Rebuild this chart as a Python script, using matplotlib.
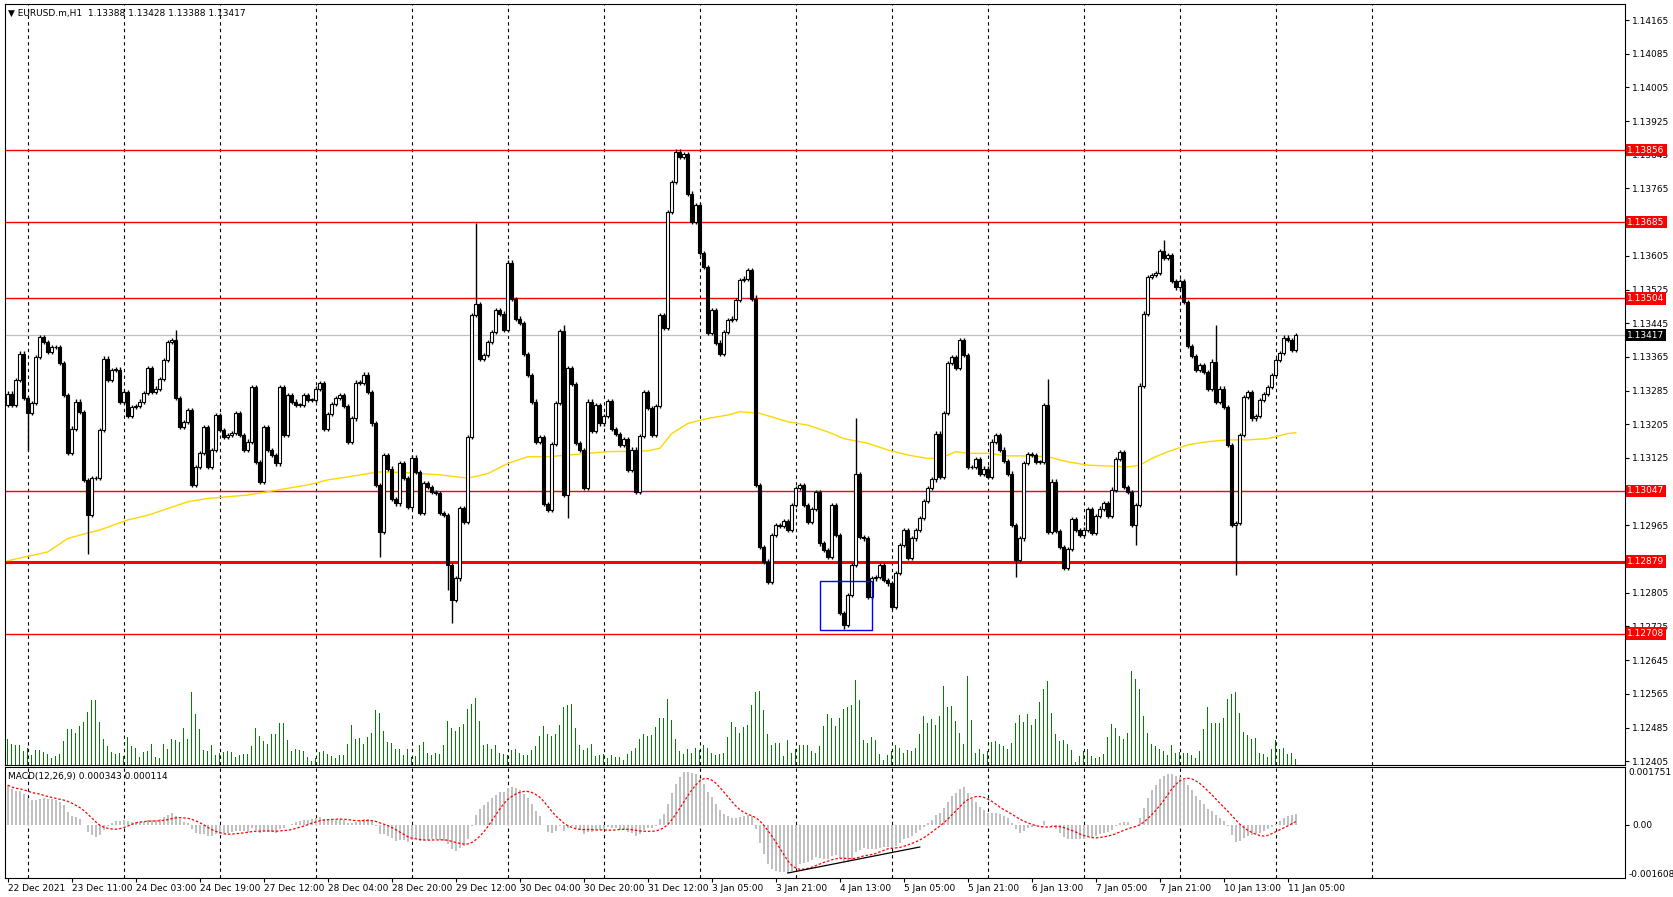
import numpy as np
import matplotlib
matplotlib.use("Agg")
import matplotlib.pyplot as plt
from matplotlib.patches import Rectangle

# ---------------- data ----------------
closes_pts = [1278,1251,1310,1373,1267,1231,1255,1365,1413,1401,1377,1388,1388,1350,1274,1137,1195,1259,1235,1073,
 989,1077,1077,1191,1361,1310,1334,1335,1259,1282,1225,1247,1249,1259,1280,1338,1282,1290,1312,1358,
 1401,1405,1267,1198,1211,1239,1061,1104,1136,1199,1104,1144,1227,1191,1175,1179,1185,1232,1179,1144,
 1164,1294,1116,1069,1199,1144,1132,1112,1294,1179,1274,1259,1251,1251,1274,1263,1263,1290,1302,1193,
 1229,1253,1267,1274,1248,1164,1219,1304,1304,1323,1282,1207,1061,950,1132,1100,1027,1017,1114,1077,
 1009,1126,1092,995,1065,1057,1045,1042,995,989,871,788,839,1007,974,1175,1464,1491,1361,1369,
 1401,1425,1476,1468,1430,1589,1502,1456,1445,1371,1322,1259,1164,1174,1015,1001,1158,1255,1427,1037,
 1338,1301,1161,1144,1053,1259,1190,1251,1207,1225,1261,1193,1182,1156,1170,1096,1145,1045,1177,1281,
 1243,1179,1249,1464,1433,1710,1781,1852,1840,1847,1753,1686,1726,1612,1578,1421,1476,1399,1373,1425,
 1453,1456,1500,1548,1551,1571,1502,1061,913,879,831,942,966,963,975,954,1013,1053,1061,1013,
 974,1003,1045,922,906,891,1013,942,756,728,799,871,1086,938,934,795,839,843,871,835,
 827,772,851,918,954,887,934,954,982,1023,1053,1074,1183,1080,1232,1350,1365,1338,1405,1369,
 1104,1103,1122,1087,1100,1080,1164,1179,1145,1118,1088,966,883,934,1114,1134,1132,1116,1116,1251,
 950,1069,952,913,863,908,979,954,942,955,1003,946,987,1005,1017,987,1050,1122,1140,1057,
 1045,966,1013,1297,1468,1554,1559,1565,1617,1601,1607,1546,1530,1546,1496,1391,1367,1334,1346,1330,
 1288,1354,1259,1290,1247,1156,966,970,1179,1269,1281,1219,1225,1263,1277,1294,1322,1358,1375,1411,
 1405,1381,1417]
first_open_pts = 1251
spike_highs = {42:1429, 117:1684, 139:1441, 167:1858, 168:1858, 187:1512, 212:1219, 260:1312, 289:1643, 302:1441}
spike_lows = {5:1144, 20:898, 93:890, 110:811, 111:732, 140:982, 209:720, 221:768, 252:843, 282:918, 307:847}

ma_idx = [0,10,15,20,23,30,35,40,45,50,60,65,70,75,80,85,90,93,100,108,115,120,125,130,135,140,150,160,163,166,
          170,175,180,183,188,195,200,205,209,215,220,225,230,233,237,240,245,250,255,260,265,270,275,280,283,
          286,290,295,300,305,310,315,320,322]
ma_pts = [881,902,934,947,954,978,989,1005,1021,1029,1037,1045,1053,1061,1073,1080,1088,1092,1090,1085,1077,1088,1112,
          1128,1128,1132,1140,1142,1148,1183,1207,1219,1227,1235,1231,1211,1203,1187,1171,1160,1144,1132,1124,1124,
          1140,1136,1136,1130,1130,1128,1116,1108,1106,1104,1108,1124,1140,1156,1164,1168,1168,1171,1183,1185]

volumes = [73,60,55,55,40,49,28,43,43,37,31,19,25,31,67,100,100,91,109,121,148,181,181,121,73,52,37,31,34,25,
 79,52,49,22,37,40,58,22,19,58,46,73,70,64,103,73,205,142,100,43,40,55,28,34,37,40,37,22,28,31,
 31,52,103,82,67,58,88,88,118,118,70,40,46,43,40,22,10,19,37,40,31,25,19,28,28,58,112,73,76,58,
 79,91,154,145,94,64,61,46,46,28,46,22,25,55,64,34,28,34,31,55,124,103,94,106,115,157,172,187,124,55,
 58,46,55,34,30,28,43,46,34,28,28,43,52,82,109,88,82,88,112,
 163,169,172,103,55,43,49,58,25,28,31,19,28,22,22,13,31,40,49,73,88,82,85,106,133,133,184,127,73,40,
 31,46,34,49,43,55,49,34,28,31,34,79,121,106,91,106,112,169,205,208,154,88,55,61,62,25,70,34,46,55,
 55,55,40,34,52,109,142,133,109,133,157,163,169,238,181,70,61,79,70,31,13,28,40,55,49,34,43,40,49,88,
 136,118,130,112,136,220,163,166,124,91,58,250,127,34,46,31,40,64,67,58,52,46,
 63,118,141,121,144,113,130,177,214,236,146,88,68,71,60,43,9,26,40,46,26,21,23,32,79,116,104,82,74,91,
 264,242,214,138,91,60,54,46,40,29,57,35,37,35,35,29,21,40,102,163,118,118,118,132,186,200,205,146,93,85,
 74,77,35,30,23,46,71,46,49,32,35,18]

levels = [1.13856, 1.13685, 1.13504, 1.13047, 1.12879, 1.12708]
level_widths = [1.0, 1.0, 1.0, 1.0, 2.2, 1.0]
last_price = 1.13417
price_ticks = [1.14165,1.14085,1.14005,1.13925,1.13845,1.13765,1.13605,1.13525,1.13445,1.13365,1.13285,
               1.13205,1.13125,1.12965,1.12805,1.12725,1.12645,1.12565,1.12485,1.12405]
date_labels = ["22 Dec 2021","23 Dec 11:00","24 Dec 03:00","24 Dec 19:00","27 Dec 12:00","28 Dec 04:00",
               "28 Dec 20:00","29 Dec 12:00","30 Dec 04:00","30 Dec 20:00","31 Dec 12:00","3 Jan 05:00",
               "3 Jan 21:00","4 Jan 13:00","5 Jan 05:00","5 Jan 21:00","6 Jan 13:00","7 Jan 05:00",
               "7 Jan 21:00","10 Jan 13:00","11 Jan 05:00"]
macd_top, macd_bot = 0.001751, -0.001608
macd_start = 0.0012   # MACD value read at the left edge of the reference
box_bars = (203, 216); box_prices = (1.12716, 1.12833)
trend_bars = (195, 228); trend_vals = (-0.001457, -0.00067)

# ---------------- derived ----------------
closes = 1.12 + np.array(closes_pts) / 1e5
n = len(closes)
opens = np.concatenate([[1.12 + first_open_pts / 1e5], closes[:-1]])
wick = 0.00005
highs = np.maximum(opens, closes) + wick
lows = np.minimum(opens, closes) - wick
for k, v in spike_highs.items():
    highs[k] = max(highs[k], 1.12 + v / 1e5)
for k, v in spike_lows.items():
    lows[k] = min(lows[k], 1.12 + v / 1e5)
x = np.arange(n)

def ema(a, p, seed):
    out = np.empty_like(a); al = 2 / (p + 1); out[0] = seed
    for i in range(1, len(a)):
        out[i] = al * a[i] + (1 - al) * out[i - 1]
    return out
macd = ema(closes, 12, closes[0]) - ema(closes, 26, closes[0] - macd_start)
signal = np.empty(n)
for i in range(n):
    signal[i] = macd[max(0, i - 8):i + 1].mean()

# ---------------- figure ----------------
W, H = 1673, 897
fig = plt.figure(figsize=(W / 100, H / 100), dpi=100, facecolor="white")
plt.rcParams['font.family'] = ['DejaVu Sans']
fs = 6.5
ax = fig.add_axes([5 / W, (H - 765) / H, 1620 / W, 761 / H])
axv = fig.add_axes([5 / W, (H - 765) / H, 1620 / W, 761 / H], sharex=ax)
axm = fig.add_axes([5 / W, (H - 878) / H, 1620 / W, 111 / H], sharex=ax)
xlim = (-0.7, 404.3)
ymin, ymax = 1.12396, 1.14203

axv.set_zorder(0); ax.set_zorder(1); ax.patch.set_alpha(0)
axv.bar(np.arange(len(volumes)), volumes, width=0.28, color="#008000")
axv.set_ylim(0, 761 * 2.8)
axv.axis("off")

grid_x = np.arange(5, 342, 24)
for a in (ax, axm):
    for g in grid_x:
        a.axvline(g, color="black", lw=0.8, ls=(0, (3, 3)), zorder=0.5)

for lv, lw in zip(levels, level_widths):
    ax.axhline(lv, color="#FF0000", lw=lw, zorder=1)
ax.axhline(last_price, color="#C0C0C0", lw=0.9, zorder=1)

ax.plot(ma_idx, 1.12 + np.array(ma_pts) / 1e5, color="#FFD700", lw=1.0, zorder=2)

ax.vlines(x, lows, highs, color="black", lw=1.0, zorder=3)
bodies_bottom = np.minimum(opens, closes)
bodies_h = np.maximum(np.abs(closes - opens), 0.000012)
cols = np.where(closes >= opens, "white", "black")
ax.bar(x, bodies_h, bottom=bodies_bottom, width=0.68, color=cols, edgecolor="black", lw=0.8, zorder=4)

ax.add_patch(Rectangle((box_bars[0], box_prices[0]), box_bars[1] - box_bars[0], box_prices[1] - box_prices[0],
                       fill=False, edgecolor="#0000FF", lw=1.0, zorder=5))

ax.set_xlim(*xlim); ax.set_ylim(ymin, ymax)
ax.yaxis.tick_right()
ax.set_yticks(price_ticks)
ax.set_yticklabels([f"{t:.5f}" for t in price_ticks], fontsize=fs)
ax.tick_params(axis="y", length=3, width=0.8, pad=2)
ax.tick_params(axis="x", bottom=False, labelbottom=False)

for lv in levels:
    ax.text(1.0015, lv, f"{lv:.5f}", transform=ax.get_yaxis_transform(), fontsize=fs, color="white",
            va="center", ha="left", bbox=dict(boxstyle="square,pad=0.2", fc="#FF0000", ec="none"), zorder=10, clip_on=False)
ax.text(1.0015, last_price, f"{last_price:.5f}", transform=ax.get_yaxis_transform(), fontsize=fs, color="white",
        va="center", ha="left", bbox=dict(boxstyle="square,pad=0.2", fc="#000000", ec="none"), zorder=10, clip_on=False)

ax.text(0.002, 0.988, "\u25bc EURUSD.m,H1  1.13388 1.13428 1.13388 1.13417", transform=ax.transAxes,
        fontsize=fs, va="center", ha="left")

# MACD
axm.bar(x, macd, width=0.6, color="#C0C0C0", zorder=2)
axm.plot(x, signal, color="#FF0000", lw=0.9, ls=(0, (2, 1.5)), zorder=3)
axm.plot(trend_bars, trend_vals, color="black", lw=0.9, zorder=4)
axm.set_ylim(macd_bot, macd_top)
axm.yaxis.tick_right()
axm.set_yticks([0.0]); axm.set_yticklabels(["0.00"], fontsize=fs)
axm.tick_params(axis="y", length=3, width=0.8, pad=2)
axm.text(1.002, 0.95, f"{macd_top:.6f}", transform=axm.transAxes, fontsize=fs, va="center", ha="left")
axm.text(1.002, 0.03, f"{macd_bot:.6f}", transform=axm.transAxes, fontsize=fs, va="center", ha="left")
axm.text(0.002, 0.91, "MACD(12,26,9) 0.000343 0.000114", transform=axm.transAxes, fontsize=fs, va="center", ha="left")
axm.set_xticks(np.arange(0, 16 * len(date_labels), 16))
axm.set_xticklabels(date_labels, fontsize=fs, ha="left")
axm.tick_params(axis="x", length=3, width=0.8, pad=1)
axm.set_xlim(*xlim)

fig.savefig("out.png", dpi=100, facecolor="white")
